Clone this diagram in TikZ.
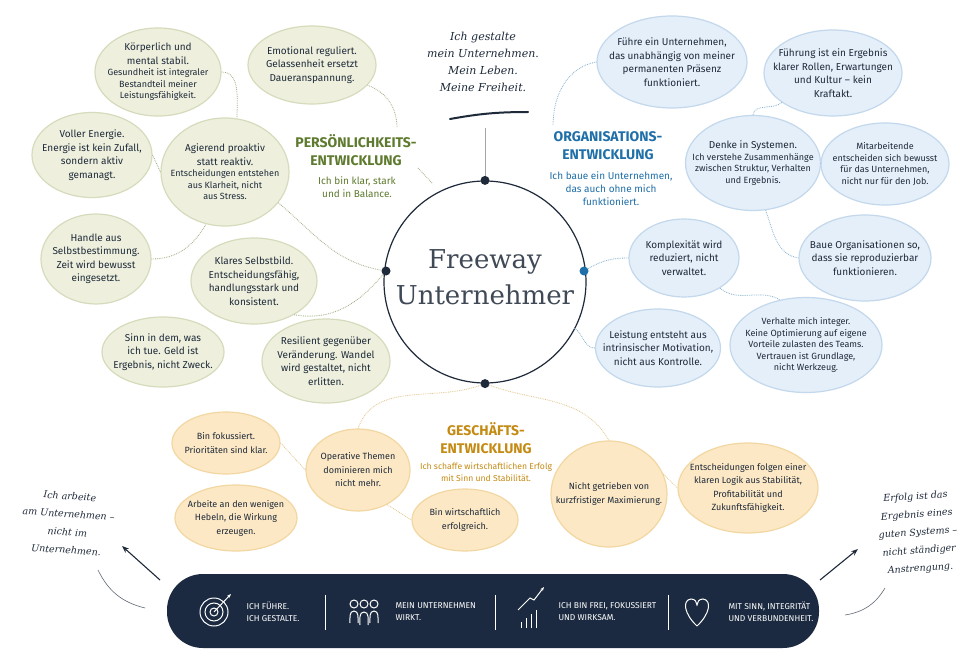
\documentclass[tikz,border=0pt]{standalone}
\usepackage{fontspec}
\setmainfont{DejaVu Serif}
\setsansfont{Fira Sans}
\newfontfamily\hand{DejaVu Serif}
\usetikzlibrary{shapes.geometric,arrows.meta}
\definecolor{gfill}{HTML}{EEF0DD}\definecolor{gdraw}{HTML}{D6DBBC}
\definecolor{bfill}{HTML}{E4EFF9}\definecolor{bdraw}{HTML}{C3D8EC}
\definecolor{yfill}{HTML}{FCE8C4}\definecolor{ydraw}{HTML}{F2D7A2}
\definecolor{gtxt}{HTML}{5E7A2E}\definecolor{btxt}{HTML}{1F6FA8}\definecolor{ytxt}{HTML}{C48A12}
\definecolor{navy}{HTML}{1B2A40}\definecolor{ink}{HTML}{1E2A3A}
\begin{document}
\begin{tikzpicture}[x=1pt,y=-1pt,
 bub/.style={ellipse,line width=1.2pt,inner sep=0pt},
 gb/.style={bub,fill=gfill,draw=gdraw},
 bb/.style={bub,fill=bfill,draw=bdraw},
 yb/.style={bub,fill=yfill,draw=ydraw},
 tx/.style={align=center,font=\sffamily\fontsize{10}{13.5}\selectfont,text=ink,inner sep=0pt},
 st/.style={align=center,font=\sffamily\fontsize{8.6}{12}\selectfont,text=ink,inner sep=0pt},
 gl/.style={draw=gtxt!60,densely dotted,line width=0.8pt},
 bl/.style={draw=btxt!55,densely dotted,line width=0.8pt},
 yl/.style={draw=ytxt!50,densely dotted,line width=0.8pt},
 head/.style={align=center,font=\sffamily\fontsize{14}{18}\selectfont\bfseries},
 sub/.style={align=center,font=\sffamily\fontsize{10}{13}\selectfont},
 hw/.style={align=center,font=\hand\itshape\fontsize{11}{17}\selectfont,text=ink},
 dot/.style={circle,fill=ink,inner sep=0pt,minimum size=9pt},
 bar/.style={font=\sffamily\fontsize{8.5}{12}\selectfont,text=white,align=left,anchor=west}]
\useasboundingbox (0,0) rectangle (980,671);
\fill[white] (0,0) rectangle (980,671);
\newcommand\bub[7]{\node[#6,minimum width=#4pt,minimum height=#5pt] (#1) at (#2,#3) {};\node[tx] at (#1) {#7};}
% center
\node[circle,draw=ink,line width=1.2pt,minimum size=202pt,inner sep=0pt] (c) at (485,282) {};
\node[align=center,font=\fontsize{26}{36}\selectfont,text=ink!85] at (485,277) {Freeway\\Unternehmer};
\node[dot] (dt) at (c.north) {};\node[dot] (dl) at (386,271) {};
\node[dot,fill=btxt] (dr) at (584,271) {};\node[dot] (db) at (c.south) {};
% top handwriting
\node[hw] (top) at (483,62) {Ich gestalte\\mein Unternehmen.\\Mein Leben.\\Meine Freiheit.};
\draw[ink,line width=2pt,line cap=round] (450,119) to[bend left=5] (528,112);
\coordinate (tv) at (485,128);
\draw[gray!70,line width=1pt] (tv) -- (dt);
% green
\bub{g1}{158}{72}{126}{88}{gb}{Körperlich und\\mental stabil.\\[-2pt]{\fontsize{9}{13}\selectfont Gesundheit ist integraler}\\[-2pt]{\fontsize{9}{13}\selectfont Bestandteil meiner}\\[-2pt]{\fontsize{9}{13}\selectfont Leistungsfähigkeit.}}
\bub{g2}{312}{65}{128}{78}{gb}{Emotional reguliert.\\Gelassenheit ersetzt\\Daueranspannung.}
\bub{g3}{92}{155}{120}{85}{gb}{Voller Energie.\\Energie ist kein Zufall,\\sondern aktiv\\gemanagt.}
\bub{g4}{225}{172}{128}{108}{gb}{Agierend proaktiv\\statt reaktiv.\\[-2pt]{\fontsize{9}{13}\selectfont Entscheidungen entstehen}\\[-2pt]{\fontsize{9}{13}\selectfont aus Klarheit, nicht}\\[-2pt]{\fontsize{9}{13}\selectfont aus Stress.}}
\bub{g5}{96}{259}{110}{90}{gb}{Handle aus\\Selbstbestimmung.\\Zeit wird bewusst\\eingesetzt.}
\bub{g6}{254}{281}{126}{86}{gb}{Klares Selbstbild.\\Entscheidungsfähig,\\handlungsstark und\\konsistent.}
\bub{g7}{163}{352}{122}{70}{gb}{Sinn in dem, was\\ich tue. Geld ist\\Ergebnis, nicht Zweck.}
\bub{g8}{326}{361}{128}{84}{gb}{Resilient gegenüber\\Veränderung. Wandel\\wird gestaltet, nicht\\erlitten.}
\node[head,text=gtxt] (gh) at (356,150) {PERSÖNLICHKEITS-\\ENTWICKLUNG};
\node[sub,text=gtxt] (gs) at (357,187) {Ich bin klar, stark\\und in Balance.};
\draw[gl] (g2.-20) to[out=-20,in=90] (397,128);
\draw[gl] (g1.east) to[out=0,in=90] (237,118);
\draw[gl] (g3.east) -- (g4.west);
\draw[gl] (g5.east) to[out=0,in=-120] (g4.-110);
\draw[gl] (g4.-30) to[out=-40,in=170] (dl);
\draw[gl] (g6.-40) to[out=-10,in=-130] (dl);
\draw[gl] (418,168) -- (432,183);
% blue
\bub{b1}{672}{62}{150}{92}{bb}{Führe ein Unternehmen,\\das unabhängig von meiner\\permanenten Präsenz\\funktioniert.}
\bub{b2}{833}{73}{138}{86}{bb}{Führung ist ein Ergebnis\\klarer Rollen, Erwartungen\\und Kultur – kein\\Kraftakt.}
\bub{b3}{753}{163}{135}{95}{bb}{Denke in Systemen.\\[-2pt]{\fontsize{9}{13}\selectfont Ich verstehe Zusammenhänge}\\[-2pt]{\fontsize{9}{13}\selectfont zwischen Struktur, Verhalten}\\[-2pt]{\fontsize{9}{13}\selectfont und Ergebnis.}}
\bub{b4}{885}{164}{128}{82}{bb}{{\fontsize{9}{13}\selectfont Mitarbeitende}\\[-2pt]{\fontsize{9}{13}\selectfont entscheiden sich bewusst}\\[-2pt]{\fontsize{9}{13}\selectfont für das Unternehmen,}\\[-2pt]{\fontsize{9}{13}\selectfont nicht nur für den Job.}}
\bub{b5}{865}{258}{132}{86}{bb}{Baue Organisationen so,\\dass sie reproduzierbar\\funktionieren.}
\bub{b6}{684}{258}{110}{78}{bb}{Komplexität wird\\reduziert, nicht\\verwaltet.}
\bub{b7}{806}{345}{152}{95}{bb}{{\fontsize{9}{13}\selectfont Verhalte mich integer.}\\[-2pt]{\fontsize{9}{13}\selectfont Keine Optimierung auf eigene}\\[-2pt]{\fontsize{9}{13}\selectfont Vorteile zulasten des Teams.}\\[-2pt]{\fontsize{9}{13}\selectfont Vertrauen ist Grundlage,}\\[-2pt]{\fontsize{9}{13}\selectfont nicht Werkzeug.}}
\bub{b8}{658}{348}{125}{78}{bb}{Leistung entsteht aus\\intrinsischer Motivation,\\nicht aus Kontrolle.}
\node[head,text=btxt] (bh) at (608,146) {ORGANISATIONS-\\ENTWICKLUNG};
\node[sub,text=btxt] (bs) at (611,189) {Ich baue ein Unternehmen,\\das auch ohne mich\\funktioniert.};
\draw[bl] (b1.west) to[out=190,in=90] (553,126);
\draw[bl] (b2.-150) to[out=-140,in=80] (b3.north);
\draw[bl] (b3.east) -- (b4.west);
\draw[bl] (b3.-75) to[out=-70,in=170] (b5.west);
\draw[bl] (b6.west) to[out=180,in=30] (dr);
\draw[bl] (b6.-40) to[out=-40,in=150] (b7.120);
\draw[bl] (b8.west) to[out=180,in=-30] (574,328);
% yellow
\bub{y1}{226}{443}{108}{62}{yb}{{\fontsize{9}{12.5}\selectfont Bin fokussiert.}\\{\fontsize{9}{12.5}\selectfont Prioritäten sind klar.}}
\bub{y2}{236}{518}{122}{66}{yb}{{\fontsize{9}{12.5}\selectfont Arbeite an den wenigen}\\{\fontsize{9}{12.5}\selectfont Hebeln, die Wirkung}\\{\fontsize{9}{12.5}\selectfont erzeugen.}}
\bub{y3}{358}{470}{104}{82}{yb}{{\fontsize{9}{12.5}\selectfont Operative Themen}\\{\fontsize{9}{12.5}\selectfont dominieren mich}\\{\fontsize{9}{12.5}\selectfont nicht mehr.}}
\bub{y4}{465}{520}{106}{62}{yb}{{\fontsize{9}{12.5}\selectfont Bin wirtschaftlich}\\{\fontsize{9}{12.5}\selectfont erfolgreich.}}
\bub{y5}{609}{494}{116}{106}{yb}{{\fontsize{9}{12.5}\selectfont Nicht getrieben von}\\{\fontsize{9}{12.5}\selectfont kurzfristiger Maximierung.}}
\bub{y6}{748}{488}{140}{90}{yb}{{\fontsize{9}{12.5}\selectfont Entscheidungen folgen einer}\\{\fontsize{9}{12.5}\selectfont klaren Logik aus Stabilität,}\\{\fontsize{9}{12.5}\selectfont Profitabilität und}\\{\fontsize{9}{12.5}\selectfont Zukunftsfähigkeit.}}
\node[head,text=ytxt] (yh) at (486,438) {GESCHÄFTS-\\ENTWICKLUNG};
\node[sub,text=ytxt,font=\sffamily\fontsize{8.6}{12}\selectfont] (ys) at (486,472) {Ich schaffe wirtschaftlichen Erfolg\\mit Sinn und Stabilität.};
\draw[yl] (db) to[out=200,in=70] (y3.north);
\draw[yl] (db) to[out=-20,in=120] (y5.north);
\draw[yl] (y1.east) -- (y3.west);
\draw[yl] (y3.-50) -- (y4.west);
\draw[yl] (y5.20) -- (y6.west);
% bottom bar
\node[fill=navy,rounded corners=36pt,minimum width=652pt,minimum height=74pt] (bar) at (493,611) {};
\foreach \x in {325,495,668} \draw[white!70,line width=0.7pt] (\x,595) -- (\x,630);
\begin{scope}[white,line width=1pt]
 \draw (214,612) circle (14) (214,612) circle (9) (214,612) circle (4);
 \draw[-{Stealth[length=4pt]}] (214,612) -- (231,594);
 \foreach \dx in {-10,0,10}{\draw (364+\dx,604) circle (4);}
 \draw (350,623) to[out=90,in=180] (354,611) to[out=0,in=90] (358,623);
 \draw (360,625) to[out=90,in=180] (364,612) to[out=0,in=90] (368,625);
 \draw (370,623) to[out=90,in=180] (374,611) to[out=0,in=90] (378,623);
 \foreach \i/\h in {0/6,5/10,10/14,15/18}{\draw (521+\i,628) -- (521+\i,628-\h);}
 \draw[-{Stealth[length=4pt]}] (518,610) -- (530,598) -- (534,600) -- (544,587);
 \draw (697,626) .. controls (684,614) and (682,600) .. (691,599) .. controls (695,599) and (697,602) .. (697,605) .. controls (697,602) and (699,599) .. (703,599) .. controls (712,600) and (710,614) .. (697,626);
\end{scope}
\node[bar] (t1) at (243,612) {ICH FÜHRE.\\ICH GESTALTE.};
\node[bar] (t2) at (392,612) {MEIN UNTERNEHMEN\\WIRKT.};
\node[bar] (t3) at (555,612) {ICH BIN FREI, FOKUSSIERT\\UND WIRKSAM.};
\node[bar] (t4) at (725,612) {MIT SINN, INTEGRITÄT\\UND VERBUNDENHEIT.};
% side notes
\node[hw,rotate=-4,font=\hand\itshape\fontsize{9.5}{18}\selectfont] (ln) at (68,523) {Ich arbeite\\am Unternehmen –\\nicht im\\Unternehmen.};
\node[hw,rotate=4,font=\hand\itshape\fontsize{9.5}{18}\selectfont] (rn) at (918,533) {Erfolg ist das\\Ergebnis eines\\guten Systems –\\nicht ständiger\\Anstrengung.};
\coordinate (la) at (160,580);\coordinate (lb) at (122,546);
\draw[ink,line width=1.1pt,-{Stealth[length=7pt]}] (la) -- (lb);
\coordinate (ra) at (820,580);\coordinate (rb) at (858,549);
\draw[ink,line width=1.1pt,-{Stealth[length=7pt]}] (ra) -- (rb);
\coordinate (lc1) at (98,570);\coordinate (lc2) at (145,608);
\draw[ink!70,line width=0.6pt] (lc1) to[bend right=25] (lc2);
\coordinate (rc1) at (885,588);\coordinate (rc2) at (845,615);
\draw[ink!70,line width=0.6pt] (rc1) to[bend left=25] (rc2);
\end{tikzpicture}
\end{document}
